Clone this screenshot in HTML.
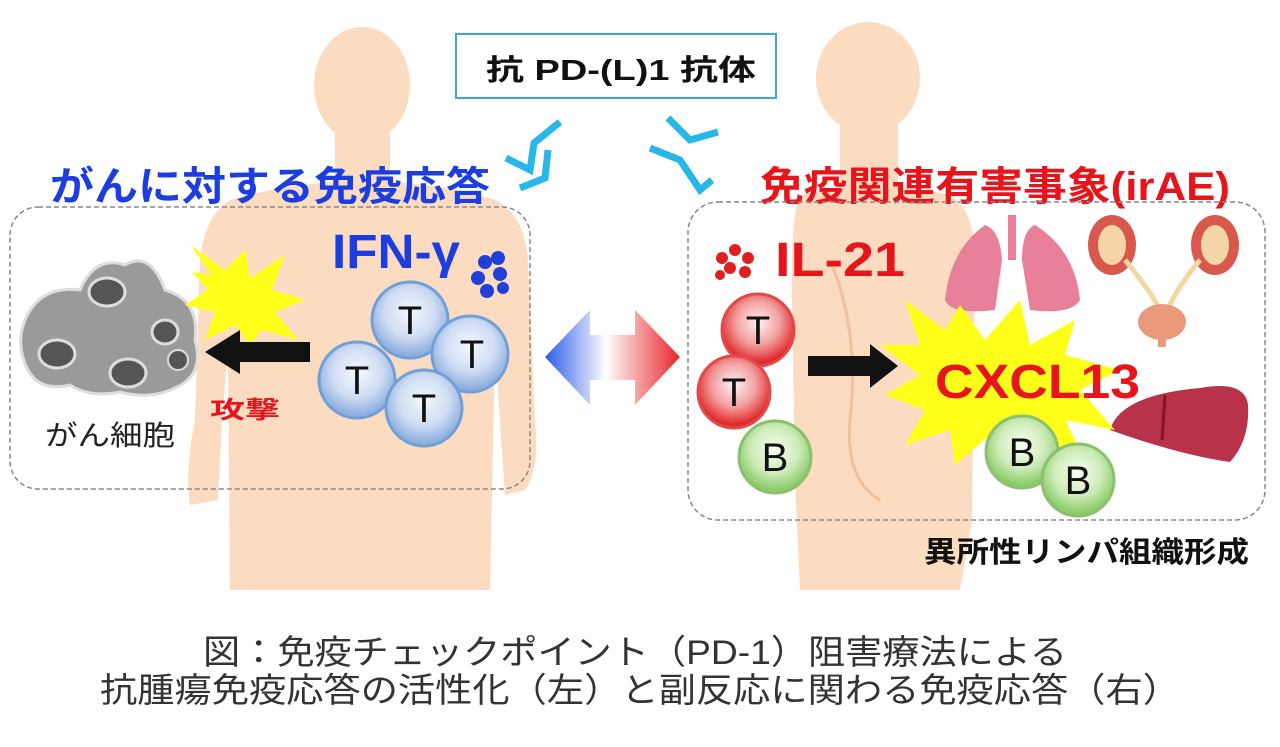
<!DOCTYPE html>
<html><head><meta charset="utf-8"><style>
html,body{margin:0;padding:0;background:#fff;}
svg{display:block}
text{font-family:"Liberation Sans","Noto Sans CJK JP",sans-serif}
</style></head><body>
<svg width="1280" height="747" viewBox="0 0 1280 747" xmlns="http://www.w3.org/2000/svg">
<defs>
<radialGradient id="tb" cx="50%" cy="40%" r="55%"><stop offset="0" stop-color="#f4f8ff"/><stop offset="0.6" stop-color="#cfdcf3"/><stop offset="1" stop-color="#8fb0df"/></radialGradient>
<radialGradient id="tr" cx="50%" cy="40%" r="55%"><stop offset="0" stop-color="#fff2f2"/><stop offset="0.55" stop-color="#f3a0a0"/><stop offset="1" stop-color="#e02a2a"/></radialGradient>
<radialGradient id="bg" cx="50%" cy="40%" r="55%"><stop offset="0" stop-color="#f6fff0"/><stop offset="0.6" stop-color="#cdebb8"/><stop offset="1" stop-color="#8ccc6a"/></radialGradient>
<linearGradient id="arr" x1="0" x2="1"><stop offset="0" stop-color="#2c5be8"/><stop offset="0.45" stop-color="#ffffff"/><stop offset="1" stop-color="#e8242a"/></linearGradient>
</defs>
<g fill="#fcdcc0">
<ellipse cx="362" cy="85" rx="48" ry="58"/>
<rect x="335" y="130" width="55" height="60"/>
<path d="M230 200 Q300 180 362 182 Q430 180 495 200 Q525 215 528 260 L535 420 Q540 470 525 490 L505 495 L500 420 L495 350 L490 590 L230 590 L228 350 L222 420 L218 500 L190 505 Q185 470 195 420 L200 260 Q205 215 230 200Z"/>
</g>
<g fill="#fcdcc0">
<ellipse cx="868" cy="78" rx="52" ry="56"/>
<rect x="840" y="120" width="58" height="70"/>
<path d="M800 195 Q870 178 950 195 Q975 210 975 260 L972 520 L960 590 L800 590 L795 480 L792 300 Q790 220 800 195Z"/>
</g>
<path d="M830 260 Q860 330 850 420 Q845 480 880 500" stroke="#f0c09c" stroke-width="3" fill="none"/>
<rect x="456" y="34" width="320" height="64" fill="#fff" stroke="#3aa7d6" stroke-width="2"/>
<text x="486" y="80" font-size="29" font-weight="bold" fill="#111" textLength="270" lengthAdjust="spacingAndGlyphs">抗 PD-(L)1 抗体</text>
<g stroke="#29b6e8" stroke-width="7" fill="none">
<path d="M506 158 L530 170 L534 143 L560 122"/>
<path d="M520 188 L545 178 L548 150"/>
<path d="M650 148 L680 160 L700 190 L712 180"/>
<path d="M668 118 L690 140 L718 132"/>
</g>
<text x="50" y="200" font-size="40" font-weight="bold" fill="#1c3ee0" textLength="440" lengthAdjust="spacingAndGlyphs">がんに対する免疫応答</text>
<text x="760" y="200" font-size="40" font-weight="bold" fill="#e8141c" textLength="470" lengthAdjust="spacingAndGlyphs">免疫関連有害事象(irAE)</text>
<rect x="10" y="207" width="520" height="282" rx="28" fill="none" stroke="#888" stroke-width="1.5" stroke-dasharray="5,3"/>
<rect x="688" y="202" width="577" height="318" rx="30" fill="none" stroke="#888" stroke-width="1.5" stroke-dasharray="5,3"/>
<path d="M545 357 L590 310 L590 335 L635 335 L635 310 L680 357 L635 405 L635 380 L590 380 L590 405Z" fill="url(#arr)"/>
<g>
<path d="M25 320 Q40 285 80 290 Q95 255 125 265 Q150 250 165 290 Q200 300 195 340 Q205 375 175 388 Q150 400 120 392 Q90 398 70 385 Q40 392 28 370 Q15 345 25 320Z" fill="#9a9a9a" stroke="#ddd" stroke-width="3"/>
<ellipse cx="107" cy="292" rx="18" ry="14" fill="#555" stroke="#ddd" stroke-width="3"/>
<ellipse cx="57" cy="354" rx="18" ry="14" fill="#555" stroke="#ddd" stroke-width="3"/>
<ellipse cx="128" cy="373" rx="18" ry="14" fill="#555" stroke="#ddd" stroke-width="3"/>
<ellipse cx="165" cy="332" rx="13" ry="12" fill="#555" stroke="#ddd" stroke-width="3"/>
<ellipse cx="178" cy="360" rx="10" ry="10" fill="#555" stroke="#ddd" stroke-width="2"/>
</g>
<text x="45" y="445" font-size="28" fill="#222" textLength="130" lengthAdjust="spacingAndGlyphs">がん細胞</text>
<polygon points="190,245 225,270 245,250 250,278 285,255 272,290 305,300 275,312 298,340 262,330 250,345 235,325 205,340 215,312 185,305 208,290 192,272 212,275" fill="#ffff1a"/>
<path d="M310 342 L240 342 L240 330 L205 352 L240 374 L240 362 L310 362Z" fill="#111"/>
<text x="210" y="418" font-size="24" font-weight="bold" fill="#e8141c" textLength="70" lengthAdjust="spacingAndGlyphs">攻撃</text>
<text x="332" y="268" font-size="48" font-weight="bold" fill="#1c3ee0" textLength="128" lengthAdjust="spacingAndGlyphs">IFN-γ</text>
<g fill="#2040d8"><circle cx="485" cy="262" r="7"/><circle cx="498" cy="258" r="7"/><circle cx="478" cy="278" r="7"/><circle cx="500" cy="274" r="7"/><circle cx="487" cy="291" r="7"/><circle cx="503" cy="288" r="6"/></g>
<g stroke="#6fa0d8" stroke-width="3" fill="url(#tb)">
<circle cx="410" cy="320" r="38"/><circle cx="470" cy="354" r="38"/><circle cx="357" cy="380" r="38"/><circle cx="424" cy="408" r="38"/>
</g>
<g font-size="40" fill="#111" text-anchor="middle"><text x="410" y="334">T</text><text x="472" y="368">T</text><text x="357" y="394">T</text><text x="424" y="422">T</text></g>
<g fill="#e8809a">
<path d="M985 225 Q950 250 945 300 Q950 315 995 310 L1002 260 Q1000 230 985 225Z"/>
<path d="M1035 225 Q1075 250 1080 300 Q1072 315 1030 310 L1022 260 Q1022 230 1035 225Z"/>
<rect x="1008" y="215" width="8" height="45"/>
</g>
<g>
<ellipse cx="1112" cy="245" rx="24" ry="30" fill="#d9584e"/><ellipse cx="1112" cy="245" rx="14" ry="20" fill="#f5d6a8"/>
<ellipse cx="1215" cy="245" rx="24" ry="30" fill="#d9584e"/><ellipse cx="1215" cy="245" rx="14" ry="20" fill="#f5d6a8"/>
<path d="M1125 260 Q1150 290 1160 310 M1200 260 Q1175 290 1168 310" stroke="#f0d8a0" stroke-width="5" fill="none"/>
<ellipse cx="1162" cy="322" rx="24" ry="18" fill="#e89a7a"/>
<rect x="1158" y="335" width="8" height="12" fill="#e89a7a"/>
</g>
<path d="M1110 430 Q1120 395 1200 388 Q1245 380 1248 405 Q1250 440 1230 462 Q1180 455 1110 430Z" fill="#b8324a"/>
<path d="M1165 395 L1162 440" stroke="#7a1a2a" stroke-width="3"/>
<polygon points="905,300 945,330 960,305 985,340 1020,300 1030,345 1075,320 1065,355 1120,370 1080,390 1115,430 1065,420 1090,470 1040,440 1010,470 990,435 955,465 950,430 905,445 925,410 885,395 920,375 880,345 920,345" fill="#ffff1a"/>
<text x="935" y="398" font-size="48" font-weight="bold" fill="#e8141c" textLength="205" lengthAdjust="spacingAndGlyphs">CXCL13</text>
<path d="M808 356 L870 356 L870 344 L898 366 L870 388 L870 376 L808 376Z" fill="#111"/>
<g fill="#e02020"><circle cx="722" cy="258" r="6"/><circle cx="735" cy="250" r="6"/><circle cx="748" cy="258" r="6"/><circle cx="730" cy="268" r="6"/><circle cx="745" cy="272" r="6"/><circle cx="720" cy="275" r="5"/></g>
<text x="775" y="276" font-size="48" font-weight="bold" fill="#e8141c" textLength="130" lengthAdjust="spacingAndGlyphs">IL-21</text>
<g stroke-width="3">
<circle cx="758" cy="330" r="36" fill="url(#tr)" stroke="#e04a4a"/>
<circle cx="734" cy="392" r="36" fill="url(#tr)" stroke="#e04a4a"/>
<circle cx="775" cy="457" r="36" fill="url(#bg)" stroke="#8cc070"/>
<circle cx="1022" cy="452" r="36" fill="url(#bg)" stroke="#8cc070"/>
<circle cx="1078" cy="480" r="36" fill="url(#bg)" stroke="#8cc070"/>
</g>
<g font-size="40" fill="#111" text-anchor="middle"><text x="758" y="344">T</text><text x="734" y="406">T</text><text x="775" y="471">B</text><text x="1022" y="466">B</text><text x="1078" y="494">B</text></g>
<text x="924" y="562" font-size="29" font-weight="bold" fill="#111" textLength="325" lengthAdjust="spacingAndGlyphs">異所性リンパ組織形成</text>
<text x="203" y="664" font-size="34" fill="#333" textLength="864" lengthAdjust="spacingAndGlyphs">図：免疫チェックポイント（PD-1）阻害療法による</text>
<text x="100" y="702" font-size="34" fill="#333" textLength="1080" lengthAdjust="spacingAndGlyphs">抗腫瘍免疫応答の活性化（左）と副反応に関わる免疫応答（右）</text>
</svg>
</body></html>
